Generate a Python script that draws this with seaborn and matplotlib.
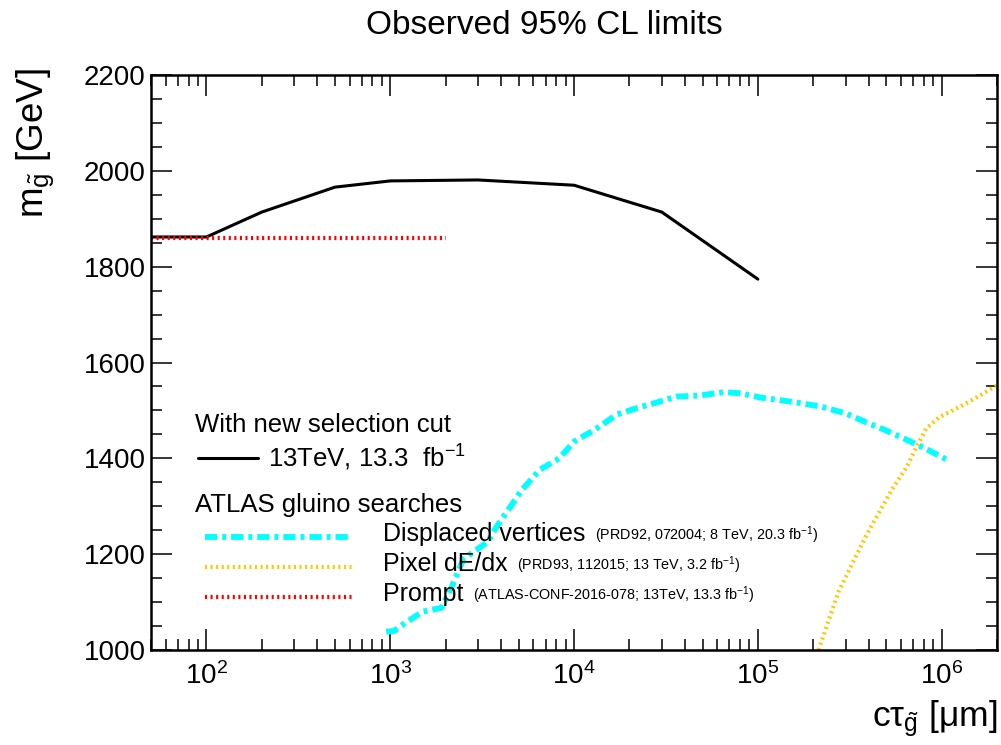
import numpy as np
import pandas as pd
import matplotlib
matplotlib.use("Agg")
import matplotlib.pyplot as plt
import seaborn as sns
from matplotlib.ticker import LogLocator, MultipleLocator, NullFormatter

# ---- data: gluino lifetime (c*tau, um) vs. excluded mass (GeV) ----
new_ctau = [50, 100, 200, 500, 1000, 3000, 1e4, 3e4, 1e5]
new_mass = [1862, 1862, 1914, 1966, 1979, 1981, 1970, 1914, 1774]

prompt_ctau = [50, 2000]
prompt_mass = [1860, 1860]

dv_ctau = [950, 1050, 1200, 1500, 1900, 2150, 2500, 3400, 3750, 4450, 5200,
           6500, 8300, 10000, 13000, 17000, 22000, 29000, 36000, 48000,
           65000, 80000, 103000, 160000, 220000, 300000, 400000, 500000,
           660000, 810000, 1070000]
dv_mass = [1038, 1040, 1056, 1080, 1088, 1130, 1190, 1226, 1255, 1296, 1334,
           1376, 1400, 1435, 1460, 1491, 1505, 1518, 1529, 1531,
           1538, 1536, 1527, 1517, 1508, 1494, 1473, 1458,
           1437, 1421, 1397]

pix_ctau = [214000, 238000, 275000, 324000, 391000, 461000, 545000, 643000,
            728000, 823000, 971000, 1350000, 2000000]
pix_mass = [1000, 1052, 1122, 1178, 1241, 1290, 1339, 1381,
            1423, 1462, 1486, 1514, 1552]

title = "Observed 95% CL limits"
xlabel = r"c$\tau_{\tilde{g}}$ [μm]"
ylabel = r"m$_{\tilde{g}}$ [GeV]"

# ---- style ----
sns.set_style("ticks")
plt.rcParams["font.family"] = ["Liberation Sans", "DejaVu Sans"]
plt.rcParams["mathtext.fontset"] = "custom"
plt.rcParams["mathtext.rm"] = "Liberation Sans"
plt.rcParams["mathtext.it"] = "Liberation Sans"
plt.rcParams["mathtext.sf"] = "Liberation Sans"
plt.rcParams["mathtext.bf"] = "Liberation Sans:bold"
plt.rcParams["mathtext.default"] = "regular"
plt.rcParams["lines.scale_dashes"] = False
plt.rcParams["text.color"] = "black"
plt.rcParams["axes.labelcolor"] = "black"
plt.rcParams["axes.edgecolor"] = "black"
plt.rcParams["xtick.color"] = "black"
plt.rcParams["ytick.color"] = "black"

CYAN = "#00FFFF"
GOLD = "#FFC800"
RED = "#FF0000"
BLACK = "#000000"

ls_dv = (0, (8.8, 3.6, 2.8, 3.6))
ls_dot = (0, (1.5, 2.5))

fig = plt.figure(figsize=(10.01, 7.45), dpi=100)
ax = fig.add_axes([0.151, 0.1275, 0.845, 0.7718])

df_new = pd.DataFrame({"ctau": new_ctau, "mass": new_mass})
df_prompt = pd.DataFrame({"ctau": prompt_ctau, "mass": prompt_mass})
df_dv = pd.DataFrame({"ctau": dv_ctau, "mass": dv_mass})
df_pix = pd.DataFrame({"ctau": pix_ctau, "mass": pix_mass})

sns.lineplot(data=df_new, x="ctau", y="mass", ax=ax, color=BLACK, lw=2.2,
             estimator=None, sort=False)
sns.lineplot(data=df_prompt, x="ctau", y="mass", ax=ax, color=RED, lw=3.0,
             linestyle=ls_dot, estimator=None, sort=False)
sns.lineplot(data=df_dv, x="ctau", y="mass", ax=ax, color=CYAN, lw=4.2,
             linestyle=ls_dv, estimator=None, sort=False)
sns.lineplot(data=df_pix, x="ctau", y="mass", ax=ax, color=GOLD, lw=3.0,
             linestyle=ls_dot, estimator=None, sort=False)

# ---- axes ----
ax.set_xscale("log")
ax.set_xlim(50, 2e6)
ax.set_ylim(1000, 2200)
ax.xaxis.set_major_locator(LogLocator(base=10, numticks=20))
ax.xaxis.set_minor_locator(LogLocator(base=10, subs=np.arange(2, 10), numticks=100))
ax.xaxis.set_minor_formatter(NullFormatter())
ax.yaxis.set_major_locator(MultipleLocator(200))
ax.yaxis.set_minor_locator(MultipleLocator(50))

for s in ax.spines.values():
    s.set_linewidth(1.8)
    s.set_color("black")
ax.tick_params(which="both", direction="in", top=True, right=True,
               width=1.1, labelsize=20, colors="black")
ax.tick_params(which="major", length=15)
ax.tick_params(which="minor", length=8)
ax.tick_params(axis="y", pad=4)
ax.tick_params(axis="x", pad=9)

ax.set_ylabel(ylabel, loc="top", fontsize=26.5)
ax.yaxis.set_label_coords(-0.112, 1.012)
ax.set_xlabel(xlabel, loc="right", fontsize=25.5)
ax.xaxis.set_label_coords(1.0, -0.083)

fig.text(0.544, 1 - 25 / 745, title, ha="center", va="center", fontsize=24)

# ---- legend block ----
tr = ax.transAxes
ax.text(0.052, 0.391, "With new selection cut", transform=tr,
        fontsize=18.5, va="center", ha="left")
ax.plot([0.0556, 0.1265], [0.334, 0.334], transform=tr, color=BLACK, lw=2.2)
ax.text(0.138, 0.334, r"13TeV, 13.3  fb$^{-1}$", transform=tr,
        fontsize=18.5, va="center", ha="left")
ax.text(0.052, 0.252, "ATLAS gluino searches", transform=tr,
        fontsize=18.5, va="center", ha="left")

entries = [
    ("Displaced vertices", r"(PRD92, 072004; 8 TeV, 20.3 fb$^{-1}$)", CYAN, 4.2, ls_dv, 0.1965),
    ("Pixel dE/dx", r"(PRD93, 112015; 13 TeV, 3.2 fb$^{-1}$)", GOLD, 3.0, ls_dot, 0.1443),
    ("Prompt", r"(ATLAS-CONF-2016-078; 13TeV, 13.3 fb$^{-1}$)", RED, 3.0, ls_dot, 0.0922),
]
for label, ref, col, lw, ls, yk in entries:
    ax.plot([0.0638, 0.2376], [yk, yk], transform=tr, color=col, lw=lw,
            linestyle=ls, dash_capstyle="butt")
    t = ax.text(0.274, yk + 0.006, label, transform=tr, fontsize=18,
                va="center", ha="left")
    ax.annotate(ref, xy=(1, 0.22), xycoords=t, xytext=(7, 0),
                textcoords="offset points", fontsize=10.4, va="baseline", ha="left")

fig.savefig("out.png", dpi=100)
